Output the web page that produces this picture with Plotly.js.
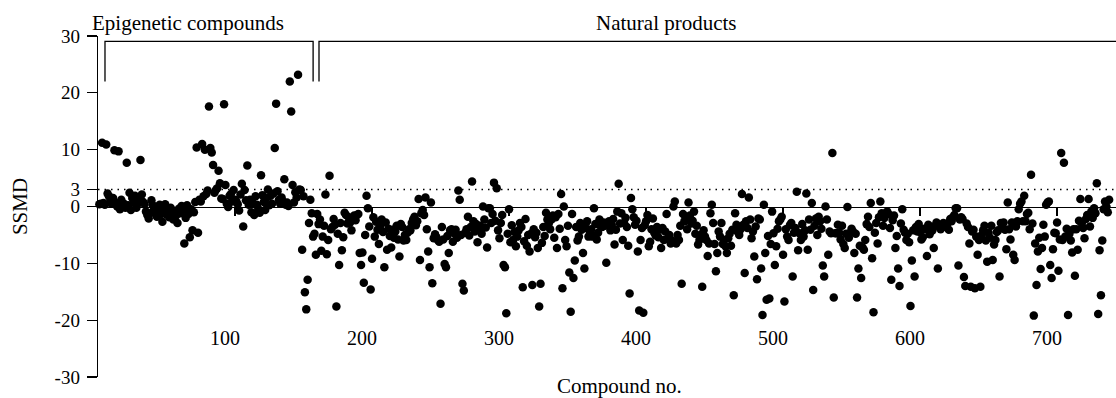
<!DOCTYPE html>
<html>
<head>
<meta charset="utf-8">
<script src="https://cdn.plot.ly/plotly-3.0.1.min.js"></script>
<style>html,body{margin:0;padding:0;background:#fff;}#chart{width:1116px;height:398px;}</style>
</head>
<body>
<div id="chart"></div>
<script>
// SSMD values, compounds 1..158 (epigenetic compounds)
const epigeneticSSMD = [
  0.4, 0.5, 11.2, 0.6, 0.3, 10.9, 2.3, 1.8, 0.9, 0.5,
  1.5, 9.9, 0.6, 0.0, 9.7, -0.5, 1.2, 0.3, 0.5, -0.2,
  7.7, 0.2, 2.4, -0.6, 1.5, 0.8, 1.9, -0.2, 0.5, 1.0,
  8.2, 2.1, 0.8, 0.4, -0.9, -1.5, -2.1, -1.2, 1.1, 0.2,
  -0.5, -1.0, -1.8, -0.6, 0.3, -1.3, -2.7, -0.9, 0.4, -1.4,
  -0.7, -1.9, -0.2, -1.1, -2.3, -0.8, -1.6, -2.9, -0.4, -1.2,
  0.1, -0.6, -6.5, -2.0, 0.2, -1.3, -5.4, -0.5, -4.2, -1.0,
  0.8, 10.4, -4.6, 1.2, 0.9, 11.0, 1.8, 10.0, 2.2, 2.8,
  17.6, 10.3, 9.5, 7.3, 2.4, 2.9, 3.2, 6.3, 4.1, 1.4,
  1.3, 18.0, 3.8, 0.5, -0.1, 1.9, 2.2, 0.9, 2.9, 1.2,
  0.9, 0.4, -0.7, 2.1, 4.0, -3.5, 2.9, 1.1, 7.2, 0.3,
  1.2, -1.0, 0.6, -1.5, 1.8, 0.3, -0.4, -1.1, 5.5, 2.0,
  0.8, -0.6, 1.5, 3.0, 0.2, 1.9, 0.5, 2.3, 10.3, 18.1,
  2.7, 1.2, 0.5, 1.6, 0.9, 4.8, 0.3, 0.7, 0.1, 22.0,
  16.7, 3.8, 0.7, 2.5, 1.6, 23.2, 3.0, 2.9, -7.6, 1.8,
  -15.1, -18.1, -12.9, -2.9, 1.2, -1.2, -5.3, -4.8
];

// SSMD values, compounds 159..738 (natural products)
const naturalSSMD = [
  -8.5, -1.3, -3.1, -2.3, -7.8, -5.3, -3.4, 2.1, -8.4, -5.9,
  5.4, -4.0, -3.6, -2.2, -3.2, -17.6, -4.8, -10.3, -2.9, -7.7,
  -5.4, -1.1, -1.5, -3.0, -1.9, -2.8, -4.2, -1.9, -1.6, -2.4,
  -1.5, -1.3, -8.2, -10.3, -8.1, -13.4, -5.0, 1.9, -0.3, -3.5,
  -14.6, -9.2, -1.9, -5.3, -2.7, -4.1, -6.6, -3.4, -2.3, -4.5,
  -10.7, -2.8, -7.6, -3.9, -5.2, -7.2, -4.1, -5.5, -4.4, -3.4,
  -5.8, -8.8, -3.1, -3.6, -6.0, -5.0, -5.9, -4.6, -4.0, -4.2,
  -2.9, -2.3, -1.8, -3.3, -2.6, 1.3, -9.4, -1.2, -0.6, -1.5,
  1.6, -4.0, -7.9, -10.7, 0.7, -13.5, -5.6, -4.9, -5.4, -5.9,
  -6.2, -17.1, -3.6, -5.8, -10.1, -10.7, -5.2, -8.2, -4.2, -4.0,
  -6.2, -4.7, -4.1, -5.5, 2.8, 1.2, -5.0, -13.6, -14.8, -4.6,
  -4.0, -1.8, -5.1, -3.6, 4.4, -2.6, -4.4, -3.1, -6.3, -4.0,
  -3.4, -4.8, 0.0, -2.3, -3.7, -7.2, -0.3, -0.3, -2.9, -1.3,
  4.2, -2.5, 3.2, -4.2, -5.6, -2.9, -1.5, -10.3, -10.7, -18.8,
  -4.8, -0.5, -6.3, -3.3, -5.9, -4.5, -7.0, -5.3, -4.2, -2.9,
  -3.6, -14.2, -6.1, -2.2, -6.9, -5.0, -7.9, -4.8, -13.8, -4.0,
  -5.4, -4.6, -7.3, -17.6, -13.6, -6.4, -3.6, -5.2, -1.1, -2.3,
  -3.0, -4.0, -2.3, -1.6, -5.5, -1.9, -7.3, -1.3, -3.9, 2.2,
  -14.4, 0.0, -5.9, -7.0, -3.4, -11.6, -18.5, -1.3, -12.6, -9.5,
  -3.6, -6.0, -5.3, -2.9, -4.1, -8.2, -10.9, -3.8, -2.6, -5.3,
  -4.4, -4.0, -5.3, -0.3, -3.1, -5.8, -4.6, -2.3, -3.5, -3.6,
  -2.8, -3.4, -9.9, -2.9, -2.6, -4.2, -3.2, -2.2, -6.7, -4.1,
  -0.9, 4.0, -3.0, -1.2, -5.9, -2.9, -2.0, -3.6, -6.9, -15.3,
  1.5, -0.5, -1.9, -3.2, -2.5, -7.9, -18.3, -5.9, -3.8, -18.7,
  -3.3, -2.6, -1.5, -7.0, -6.2, -4.0, -2.1, -4.6, -5.1, -3.6,
  -5.4, -4.1, -7.3, -3.8, -5.9, -4.4, -1.3, -5.6, -5.0, -6.5,
  -6.0, 0.0, 0.9, -6.5, -5.0, -5.9, -3.4, -13.6, -1.3, -2.6,
  -2.3, -4.0, 0.7, -1.6, -3.0, -2.5, -0.9, -4.8, -3.4, -6.7,
  -5.9, -5.0, -14.1, -4.2, -5.3, -5.9, -8.7, -6.5, -1.2, 0.3,
  -2.9, -6.6, -11.4, -8.2, -4.4, -5.3, -2.9, -6.6, -5.9, -7.0,
  -8.2, -5.6, -4.8, -6.9, -4.1, -15.6, -1.2, -3.2, -4.5, -5.0,
  -4.0, 2.2, -3.2, -11.7, -2.6, -3.8, 1.6, -2.3, -5.6, -4.4,
  -8.8, -3.5, -12.8, -2.1, -2.3, -10.9, -19.1, 0.3, -8.2, -16.4,
  -5.2, -16.2, -6.6, -0.9, -4.7, -10.3, -7.0, -3.9, -2.6, -2.3,
  -1.8, -8.5, -16.7, -4.0, -5.3, -5.9, -3.3, -2.9, -12.3, -4.6,
  -3.8, 2.6, -7.7, -4.7, -5.9, -3.1, -5.3, -4.2, 2.3, -7.6,
  -2.3, -4.1, 0.6, -14.7, -3.4, -2.1, -5.0, -1.8, -2.6, -3.9,
  -10.4, -12.3, 0.0, -2.3, -8.5, -4.4, -4.7, 9.4, -16.0, -4.7,
  -4.7, -3.2, -4.6, -5.8, -3.4, -6.6, -7.3, -4.8, -0.1, -5.5,
  -4.6, -3.9, -4.4, -8.2, -4.8, -16.0, -10.9, -6.9, -12.6, -7.2,
  -7.6, -5.9, -3.1, -1.8, -3.6, 0.6, -9.1, -18.6, -4.6, -2.9,
  -6.5, -1.9, 0.9, -1.2, -3.4, -2.0, -1.2, -0.9, -1.3, -3.8,
  -12.9, -2.4, -1.6, -7.3, -5.2, -10.9, -14.0, -3.0, -0.5, -4.1,
  -4.6, -5.9, -4.8, -6.3, -17.5, -9.5, -4.2, -12.3, -3.6, -4.4,
  -3.1, -4.5, -5.8, -5.4, -3.9, -4.0, -8.7, -3.2, -4.9, -3.6,
  -4.2, -7.3, -3.4, -2.8, -10.9, -3.5, -4.0, -3.6, -2.9, -3.2,
  -3.6, -3.0, -4.1, -2.2, -2.6, -1.9, -1.5, -0.3, -0.3, -10.4,
  -2.3, -1.9, -2.2, -12.4, -14.0, -3.0, -3.6, -6.5, -14.1, -4.4,
  -4.1, -14.4, -5.3, -8.5, -5.9, -14.1, -5.0, -4.2, -3.4, -6.0,
  -9.7, -4.6, -5.5, -3.4, -9.4, -6.7, -5.9, -4.5, -4.2, -12.3,
  -2.9, -3.6, -2.8, -4.1, -7.5, 0.7, -4.0, -5.8, -2.8, -8.5,
  -9.4, -3.5, -2.6, -0.5, 0.5, 0.9, -2.6, 1.9, -2.6, -1.3,
  -1.1, -4.0, 5.6, -3.0, -19.2, -6.5, -13.8, -7.9, -5.5, -11.0,
  -7.3, -3.2, -5.3, 0.3, 0.7, 0.9, -10.3, -12.6, -7.5, -4.6,
  -4.7, -2.8, -11.3, -5.8, 9.4, -5.9, 7.7, -5.3, -3.9, -19.1,
  -4.8, -6.0, -8.1, -4.0, -12.2, -4.0, -7.6, -2.5, 1.3, -3.0,
  -3.8, -5.6, -2.2, -1.5, 1.3, -3.5, -0.9, -2.0, -0.3, -1.2,
  4.1, -18.9, -7.7, -15.6, -6.0, -0.5, 0.9, 0.0, -1.0, 1.2
];

const xTickVals = [100, 200, 300, 400, 500, 600, 700];
const xTickText = ['100', '200', '300', '400', '500', '600', '700'];
const yTickVals = [-30, -20, -10, 0, 3, 10, 20, 30];
const yTickText = ['-30', '-20', '-10', '0', '3', '10', '20', '30'];
const thresholdSSMD = 3;
const groupLabels = ['Epigenetic compounds', 'Natural products'];
const epiStart = 1;
const natStart = epiStart + epigeneticSSMD.length;

const epiX = epigeneticSSMD.map((_, i) => epiStart + i);
const natX = naturalSSMD.map((_, i) => natStart + i);
const xMax = 743;

const FONT = 'Liberation Serif, Times New Roman, serif';
const marker = {color: '#000', size: 8.5, line: {width: 0}};

const traces = [
  {x: epiX, y: epigeneticSSMD, type: 'scatter', mode: 'markers', marker: marker, name: groupLabels[0], cliponaxis: false},
  {x: natX, y: naturalSSMD, type: 'scatter', mode: 'markers', marker: marker, name: groupLabels[1], cliponaxis: false}
];

const bracketTop = 29.05, bracketBottom = 22.0;
const epiBracketL = 5.1, epiBracketR = 157.0, natBracketL = 161.3;

const layout = {
  width: 1116, height: 398,
  margin: {l: 98, r: 0, t: 35.7, b: 21.3, pad: 0},
  paper_bgcolor: '#fff', plot_bgcolor: '#fff',
  showlegend: false,
  font: {family: FONT, size: 20, color: '#000'},
  xaxis: {
    range: [0, xMax], anchor: 'free', position: 0.5, side: 'bottom',
    showline: true, linecolor: '#000', linewidth: 1.3,
    ticks: 'outside', ticklen: 8, tickwidth: 1.3, tickcolor: '#000',
    tickvals: xTickVals, ticktext: xTickText,
    ticklabelstandoff: 105, ticklabelshift: -10,
    showgrid: false, zeroline: false,
    tickfont: {family: FONT, size: 20, color: '#000'}
  },
  yaxis: {
    range: [-30, 30],
    showline: true, linecolor: '#000', linewidth: 1.3,
    ticks: 'outside', ticklen: 10, tickwidth: 1.3, tickcolor: '#000',
    tickvals: yTickVals, ticktext: yTickText,
    ticklabelstandoff: 3,
    showgrid: false, zeroline: false,
    tickfont: {family: FONT, size: 19, color: '#000'},
    title: {text: 'SSMD', font: {family: FONT, size: 21, color: '#000'}, standoff: 21}
  },
  shapes: [
    {type: 'line', xref: 'x', yref: 'y', x0: 0, x1: xMax, y0: thresholdSSMD, y1: thresholdSSMD,
     line: {color: '#000', width: 1.5, dash: '1.5px,5px'}},
    {type: 'path', xref: 'x', yref: 'y',
     path: `M ${epiBracketL},${bracketBottom} L ${epiBracketL},${bracketTop} L ${epiBracketR},${bracketTop} L ${epiBracketR},${bracketBottom}`,
     line: {color: '#000', width: 1.3}},
    {type: 'path', xref: 'x', yref: 'y',
     path: `M ${natBracketL},${bracketBottom} L ${natBracketL},${bracketTop} L ${xMax},${bracketTop}`,
     line: {color: '#000', width: 1.3}}
  ],
  annotations: [
    {text: groupLabels[0], xref: 'paper', yref: 'paper', x: -0.0079, y: 1.038, xanchor: 'left', yanchor: 'middle',
     showarrow: false, font: {family: FONT, size: 21, color: '#000'}},
    {text: groupLabels[1], xref: 'paper', yref: 'paper', x: 0.558, y: 1.038, xanchor: 'center', yanchor: 'middle',
     showarrow: false, font: {family: FONT, size: 21, color: '#000'}},
    {text: 'Compound no.', xref: 'paper', yref: 'paper', x: 0.5127, y: 0, yshift: -9, xanchor: 'center', yanchor: 'middle',
     showarrow: false, font: {family: FONT, size: 21, color: '#000'}}
  ]
};

Plotly.newPlot('chart', traces, layout, {displayModeBar: false, staticPlot: true});
</script>
</body>
</html>
